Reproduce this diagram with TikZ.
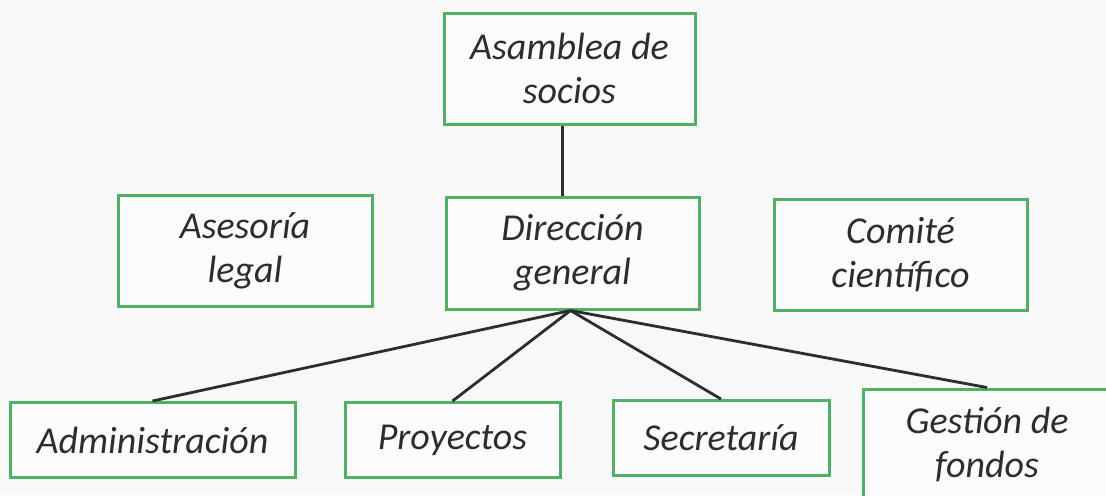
\documentclass[tikz,border=0pt]{standalone}
\usepackage{fontspec}
\setmainfont{Carlito}

\definecolor{verdecaja}{RGB}{80,176,104}
\definecolor{fondo}{RGB}{248,248,248}
\definecolor{tinta}{RGB}{45,45,45}

\tikzset{
    caja/.style={draw=verdecaja, line width=1.5pt, fill=white!60!fondo, align=center,
        inner sep=0pt, text=tinta, font=\fontsize{19}{22}\selectfont\itshape},
    enlace/.style={draw=tinta, line width=1.4pt}
}

\begin{document}
\begin{tikzpicture}[x=0.5pt, y=-0.5pt]
        \clip (0,0) rectangle (1106,495);
        \fill[fondo] (0,0) rectangle (1106,495);

        % Cabeza del organigrama.
        \node[caja, minimum width=125.5pt, minimum height=55.5pt] (asamblea) at (569.5,68.5) {Asamblea de\\socios};
        \node[caja, minimum width=126.5pt, minimum height=56pt] (direccion) at (572.5,253) {Dirección\\general};
        \node[caja, minimum width=127pt, minimum height=55.5pt] (asesoria) at (245,250.5) {Asesoría\\legal};
        \node[caja, minimum width=126.5pt, minimum height=55.5pt] (comite) at (900.5,254.5) {Comité\\científico};

        % Departamentos.
        \node[caja, minimum width=142.5pt, minimum height=37.5pt] (admin) at (152.5,440) {Administración};
        \node[caja, minimum width=107.5pt, minimum height=37.5pt] (proyectos) at (452.5,440) {Proyectos};
        \node[caja, minimum width=108pt, minimum height=37.5pt] (secretaria) at (721,438) {Secretaría};
        \node[caja, minimum width=124pt, minimum height=56pt] (gestion) at (987,445) {Gestión de\\fondos};

        \draw[enlace] ([xshift=-3.5pt]asamblea.south) -- ([xshift=-3.5pt]asamblea.south |- direccion.north);
        \foreach \dep in {admin, proyectos, secretaria, gestion}
            \draw[enlace] ([xshift=-1pt]direccion.south) -- (\dep.north);
    \end{tikzpicture}
\end{document}
